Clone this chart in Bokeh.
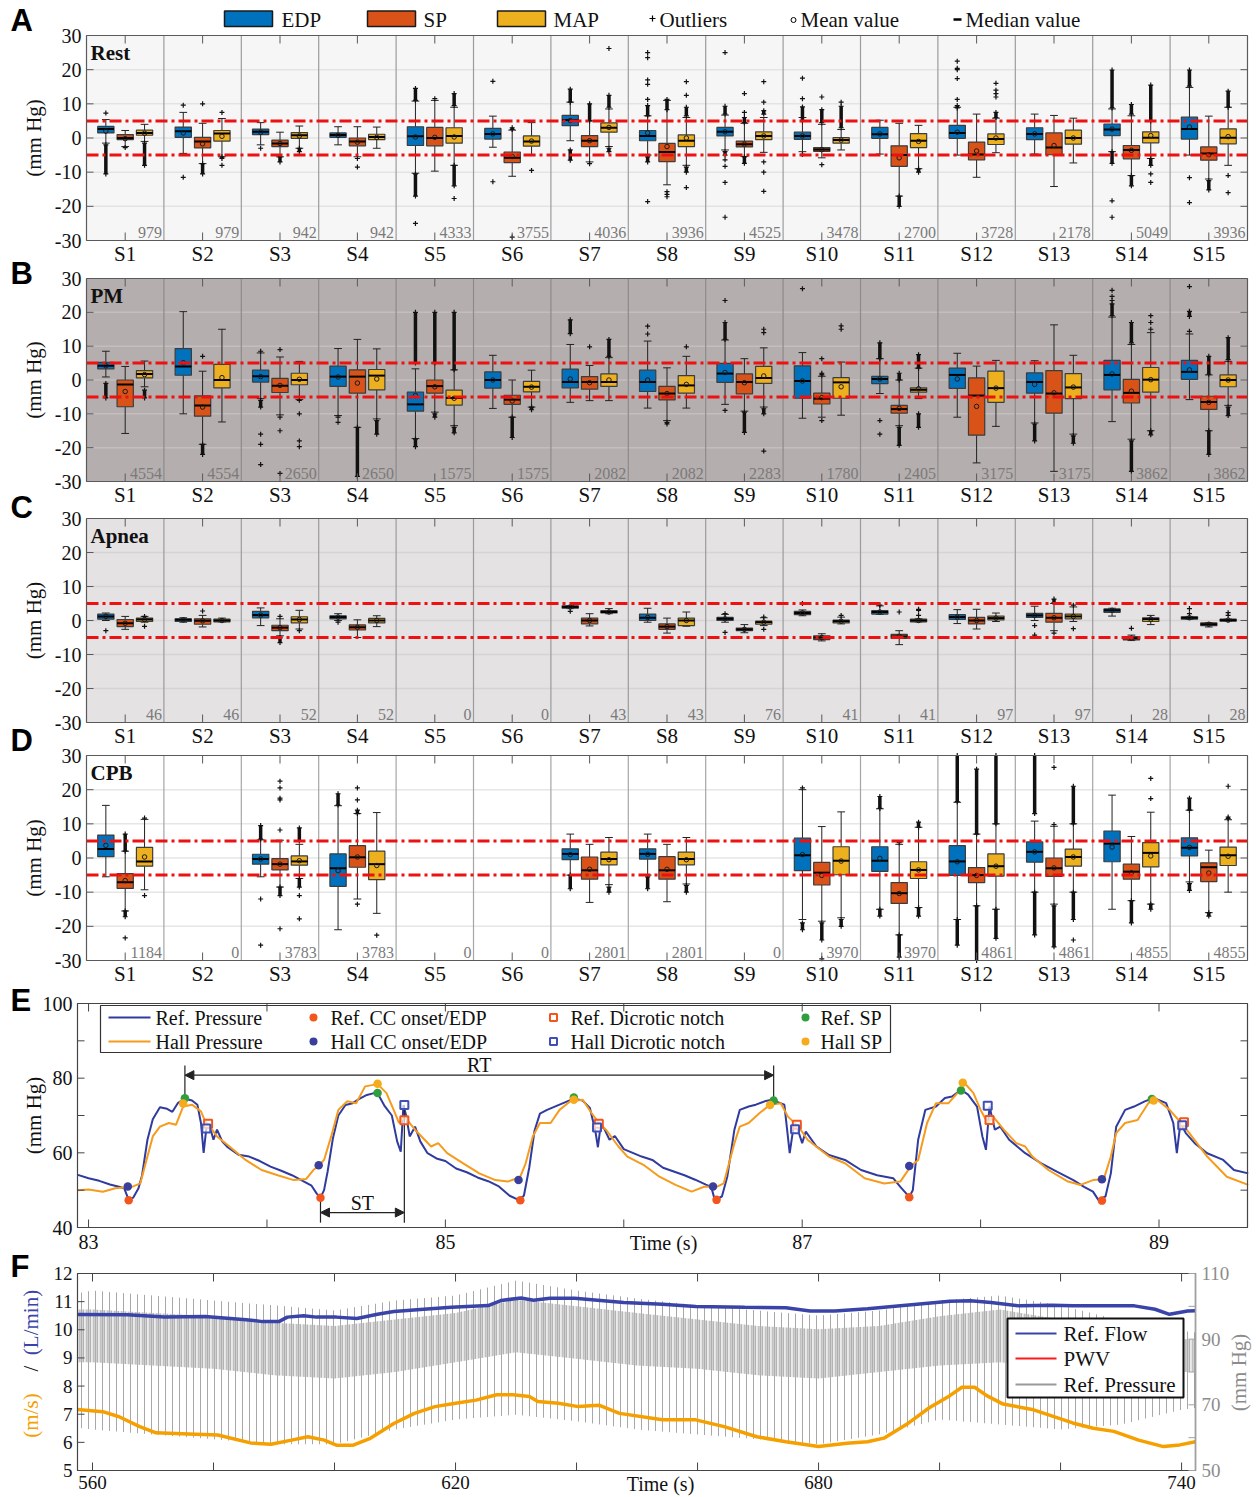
import math
from bokeh.plotting import figure
from bokeh.models import Range1d, ColumnDataSource, Arrow, NormalHead
from bokeh.embed import file_html
from bokeh.resources import INLINE
from bokeh.core.properties import value

# ------------------------------------------------------------------ data
subjects = ["S1", "S2", "S3", "S4", "S5", "S6", "S7", "S8", "S9", "S10", "S11", "S12", "S13", "S14", "S15"]
measures = ["EDP", "SP", "MAP"]
panel_names = ["Rest", "PM", "Apnea", "CPB"]
limits = [5, -5]
y_ticks = [-30, -20, -10, 0, 10, 20, 30]
# each box: [low whisker, q1, median, q3, high whisker, mean]
A_EDP = [[-1.5, 1.5, 2.6, 3.4, 5.4, 2.0], [-4.5, 0.2, 2.0, 3.2, 7.5, 1.5], [-2.0, 1.0, 1.8, 2.6, 4.5, 1.7],
         [-2.0, 0.2, 0.9, 1.5, 3.3, 0.8], [-10.3, -2.2, 0.5, 3.3, 10.8, 0.3], [-2.7, -0.3, 1.2, 2.8, 6.4, 1.2],
         [-0.8, 3.6, 5.3, 6.6, 10.5, 5.1], [-5.0, -0.8, 0.6, 2.2, 6.5, 1.5], [-3.5, 0.6, 1.8, 3.1, 6.7, 1.8],
         [-4.0, -0.4, 0.6, 1.7, 6.0, 0.6], [-4.7, -0.1, 1.1, 3.1, 5.2, 1.2], [-5.0, -0.1, 1.5, 3.7, 9.0, 1.7],
         [-4.7, -0.5, 1.2, 3.0, 7.0, 1.2], [-4.0, 0.7, 2.5, 4.1, 8.5, 2.6], [-5.0, -0.3, 2.6, 6.1, 14.8, 3.2]]
A_SP = [[-2.5, -0.5, 0.0, 1.0, 2.2, -0.2], [-7.5, -2.9, -1.0, 0.2, 4.3, -1.7], [-5.5, -2.5, -1.6, -0.6, 1.7, -1.6],
        [-5.5, -2.3, -1.0, 0.0, 3.3, -1.2], [-9.7, -2.3, 0.0, 3.1, 11.0, 0.2], [-11.2, -7.2, -5.8, -4.1, 2.3, -5.4],
        [-7.0, -2.5, -0.8, 0.7, 5.0, -0.8], [-13.7, -6.9, -4.1, -1.6, 11.0, -2.5], [-5.4, -2.6, -1.8, -0.9, 4.3, -1.8],
        [-5.8, -3.9, -3.4, -2.8, 4.0, -3.4], [-17.0, -8.3, -5.0, -2.3, 4.3, -5.8], [-11.5, -6.4, -4.8, -1.2, 7.0, -3.8],
        [-14.2, -4.9, -2.8, 1.5, 6.6, -2.2], [-11.0, -6.1, -3.5, -2.2, 6.5, -3.6], [-12.0, -6.5, -4.5, -2.6, 6.4, -4.9]]
A_MAP = [[-1.0, 0.8, 1.5, 2.3, 4.0, 1.4], [-5.5, -0.9, 1.3, 2.2, 5.7, 0.5], [-3.0, -0.1, 0.8, 1.6, 3.5, 0.6],
         [-3.0, -0.5, 0.3, 1.1, 3.2, 0.2], [-8.0, -1.5, 0.6, 3.0, 9.0, 0.3], [-5.0, -2.4, -1.0, 0.6, 4.5, -0.9],
         [-2.5, 1.7, 3.0, 4.4, 8.5, 3.1], [-8.0, -2.5, -0.8, 0.9, 6.0, 0.0], [-4.2, -0.5, 0.6, 1.8, 6.0, 0.6],
         [-3.5, -1.5, -0.6, 0.1, 2.5, -0.6], [-9.0, -2.8, -0.8, 1.3, 3.7, -1.0], [-4.3, -1.9, -0.3, 1.2, 5.8, 0.0],
         [-7.3, -1.8, 0.0, 2.3, 5.8, 0.0], [-6.0, -1.4, 0.1, 1.8, 5.0, 0.7], [-8.0, -1.7, 0.1, 2.7, 9.0, 0.4]]
# outliers: single values, or [from, to] for a dense run of outliers
A_EDP_out = [[7.3, [-2, -10.5]], [9.6, -11.5], [-3], [], [[11, 14.5], [-10.5, -17], -25], [16.6, -12.8],
             [[10.5, 14.3], [-3.5, -6.5]], [[6.5, 9.5], 11.3, 15.7, 17, 23.5, 25, [-5.5, -7], -18.6],
             [[7, 9.3], 25, [-4, -5], -6.4, -8.3, -13, -23.2], [[5, 9.1], 11.5, 17.5, -4.8], [],
             [[8.8, 9.5], 11.3, 17.4, 20, 20.4, 22.5], [], [[8.8, 19.9], [-4, -7.4], -18.4, -23.2],
             [[15.2, 19.9], -11.6, -18.9]]
A_SP_out = [[-2.8], [10, [-7.5, -10.5]], [[-5.5, -7]], [-6, -8.5], [11.5], [[2.5, 3], -29], [[5, 10], -7.5],
            [[8.3, 11.3], -15.7, -16.5, -17.2], [[4.5, 6], 7.5, 13, [-5.5, -7.4]], [[4.5, 8.3], 12, -7.8],
            [[-17, -20]], [], [], [[7, 9.8], [-11, -14]], [[-12.5, -15.2]]]
A_MAP_out = [[[-1.5, -8]], [7.5, [-5.5, -6], -8], [[-3, -4]], [], [[9.5, 13], [-8, -14], -17.7], [-9.5],
             [[9, 12.5], 26.2, [-3, -4]], [[6.5, 9], 12.5, 16.5, [-8.5, -10], -14.5],
             [[7, 8], 10.5, 16.5, -7, -10, -15.6], [[3, 9.3], 10.5], [[-9, -10]], [[6, 7.5], 12, 13, 14, 16], [],
             [[5, 15.5], [-6, -8], -10.5, -13], [[9, 13.7], -11, -16]]
A_n = [979, 979, 942, 942, 4333, 3755, 4036, 3936, 4525, 3478, 2700, 3728, 2178, 5049, 3936]

B_EDP = [[0.9, 3.3, 4.2, 5.2, 8.5, 4.2], [-10.0, 1.4, 4.0, 9.3, 20.2, 5.1], [-5.5, -0.6, 1.1, 2.9, 8.0, 1.0],
         [-10.5, -1.9, 1.0, 4.1, 9.3, 0.9], [-17.3, -9.2, -7.2, -3.6, 3.3, -4.6], [-8.4, -2.4, 0.0, 2.4, 7.3, 0.0],
         [-6.6, -2.3, -0.6, 3.2, 10.5, 0.3], [-8.3, -3.4, -0.6, 2.9, 11.5, 0.0], [-7.2, -0.7, 1.9, 4.9, 11.8, 2.2],
         [-11.3, -5.4, -0.3, 4.2, 8.1, -0.3], [-4.0, -1.1, 0.3, 1.1, 6.3, 0.3], [-11.0, -2.5, 1.5, 3.5, 7.9, 0.3],
         [-12.7, -3.9, -0.6, 2.1, 5.7, -1.3], [-12.3, -2.9, 1.5, 5.8, 18.6, 1.8], [-5.8, 0.2, 2.4, 5.8, 13.6, 3.0]]
B_SP = [[-15.8, -7.9, -1.3, 0.0, 4.0, -3.4], [-19.0, -10.7, -7.5, -4.7, 2.6, -8.0], [-10.3, -3.7, -1.7, 0.5, 6.8, -1.6],
        [-14.0, -3.9, 1.0, 3.0, 12.0, -0.9], [-9.5, -3.9, -1.8, 0.0, 5.0, -2.0], [-11.0, -7.2, -5.8, -4.5, 0.0, -6.2],
        [-6.1, -2.7, -0.6, 1.0, 4.3, -0.8], [-12.0, -5.9, -4.0, -1.9, 3.6, -4.0], [-9.2, -4.1, -0.6, 1.8, 6.3, -0.8],
        [-11.0, -7.1, -5.5, -3.9, 1.1, -5.2], [-13.5, -9.8, -8.6, -7.5, 0.0, -8.4], [-24.5, -16.3, -4.6, 0.6, 4.1, -7.8],
        [-27.0, -9.8, -4.0, 2.8, 16.3, -3.8], [-17.5, -6.8, -3.8, 0.2, 10.5, -3.3], [-15.0, -8.7, -6.5, -4.8, 1.5, -6.6]]
B_MAP = [[-2.0, 0.6, 1.8, 2.8, 5.6, 1.6], [-12.4, -2.3, 0.0, 4.6, 15.0, 0.7], [-5.8, -1.4, 0.0, 2.0, 5.5, 0.2],
         [-11.5, -2.9, 1.3, 3.1, 9.2, 0.3], [-13.5, -7.4, -5.3, -3.0, 3.0, -5.4], [-8.0, -3.5, -2.0, -0.4, 2.9, -2.1],
         [-6.1, -1.9, -0.6, 1.8, 6.6, 0.0], [-8.3, -3.9, -1.6, 1.3, 7.0, -1.3], [-8.0, -1.0, 0.6, 4.0, 9.5, 1.2],
         [-10.4, -5.4, -0.7, 0.7, 5.3, -2.0], [-5.5, -3.6, -2.9, -2.3, 3.5, -2.6], [-13.7, -6.6, -2.4, 2.6, 5.8, -2.4],
         [-16.0, -5.5, -2.2, 1.9, 7.3, -2.1], [-15.0, -3.6, 0.1, 3.7, 14.0, 0.1], [-7.5, -2.0, 0.0, 1.5, 5.5, 0.0]]
B_EDP_out = [[[-1, -5.3]], [], [8.5, [-6, -8], -16, -19, -25], [-11, -12.5], [[5, 20], [-17.5, -19.7]], [],
             [[13.7, 17.8]], [13.6, 15.9], [[12, 17], 23.5, -9], [27], [[6.3, 11], -12, -16], [],
             [[-13, -18]], [[19, 22.5], 23.5, 24.7, 26.5], [14.4, [18.8, 20.3], 27.6]]
B_SP_out = [[], [7, [-19, -22]], [9, -11, -15, -27.6], [[-14, -28.5]], [[5, 20], [-10, -11]], [[-11, -17]], [9.8],
            [[-12.5, -13]], [[-9.5, -15.5]], [[1.5, 2], 6.3, -12], [[0, 2], [-14, -19.3]], [], [],
            [[11, 17], [-18, -27]], [[1.7, 7], [-15, -22]]]
B_MAP_out = [[[-3, -5.3]], [], [-6, -10, -18, -19.7], [[-12, -16]], [[3, 20], [-14, -15.6]], [[-8, -8.8]],
             [[7, 12]], [9.8], [14, 15, [-8.5, -10], -21], [15, 16], [[3.5, 7.5], [-10, -14]], [],
             [[-16.5, -18.7]], [15, 17, 19, [-15, -16.2]], [[6, 12.5], [-8, -10.5]]]
B_n = [4554, 4554, 2650, 2650, 1575, 1575, 2082, 2082, 2283, 1780, 2405, 3175, 3175, 3862, 3862]

C_EDP = [[0.0, 0.4, 1.2, 1.9, 2.2, 1.2], [-0.5, -0.3, 0.2, 0.5, 0.8, 0.2], [-1.5, 0.8, 1.6, 2.7, 3.7, 1.6],
         [0.0, 0.5, 1.0, 1.4, 2.0, 1.0], None, None, [3.5, 3.6, 4.0, 4.3, 4.4, 4.0],
         [-0.5, 0.0, 0.8, 1.9, 3.6, 0.9], [-0.5, 0.0, 0.5, 0.9, 1.8, 0.5], [1.4, 1.7, 2.2, 2.7, 3.1, 2.2],
         [1.8, 1.9, 2.5, 2.9, 4.3, 2.5], [-0.9, 0.3, 1.0, 1.7, 3.2, 1.0], [0.0, 0.9, 1.5, 2.1, 4.2, 1.5],
         [1.3, 2.4, 3.0, 3.4, 3.6, 3.0], [0.3, 0.4, 0.8, 1.1, 1.2, 0.8]]
C_SP = [[-2.6, -1.8, -0.8, 0.3, 1.2, -0.8], [-1.9, -1.1, -0.1, 0.5, 1.5, -0.1], [-4.5, -3.0, -2.1, -1.4, 0.5, -2.1],
        [-5.0, -2.8, -2.0, -1.3, 0.2, -2.0], None, None, [-1.6, -1.0, 0.0, 0.7, 2.0, 0.0],
        [-3.7, -2.6, -1.8, -1.0, 0.7, -1.8], [-3.6, -3.0, -2.6, -2.2, -1.2, -2.6], [-6.0, -5.6, -5.0, -4.5, -3.9, -5.0],
        [-7.1, -5.3, -4.7, -4.1, -3.0, -4.7], [-2.5, -1.0, 0.0, 0.9, 3.3, 0.0], [-3.0, -0.5, 0.8, 2.1, 5.0, 0.8],
        [-5.9, -5.7, -5.2, -4.7, -4.3, -5.2], [-1.9, -1.5, -1.1, -0.7, -0.6, -1.1]]
C_MAP = [[-0.5, -0.3, 0.3, 0.7, 1.2, 0.3], [-0.4, -0.4, 0.0, 0.4, 0.7, 0.0], [-2.5, -0.7, 0.3, 1.1, 3.0, 0.3],
         [-1.8, -0.7, 0.0, 0.6, 1.4, 0.0], None, None, [2.0, 2.2, 2.5, 2.9, 3.5, 2.5],
         [-1.7, -1.5, 0.0, 0.7, 2.5, 0.0], [-1.5, -1.1, -0.5, -0.2, 0.8, -0.5], [-1.0, -0.7, -0.2, 0.1, 1.0, -0.2],
         [-0.4, -0.4, 0.0, 0.4, 0.5, 0.0], [-0.3, 0.2, 0.7, 1.3, 2.2, 0.7], [-0.3, 0.5, 1.2, 1.9, 4.0, 1.2],
         [-1.2, -0.3, 0.4, 0.8, 1.5, 0.4], [-0.2, -0.2, 0.1, 0.4, 0.4, 0.1]]
C_EDP_out = [[-3], [], [], [-0.5], [], [], [2.7], [], [2, -3.5], [5], [4.5], [], [-1.5, -4.3], [], [2, 3.5]]
C_SP_out = [[], [2.8], [1.2, [-5, -6.5]], [], [], [], [], [], [], [], [2.5], [], [[5.3, 6.3], -3.7], [-2.3], []]
C_MAP_out = [[1.2, -1.7], [], [-3], [], [], [], [], [], [1, -2.6], [1.5], [1.5, 3, 3.3], [], [4.5, -2.4], [],
             [1.5, 2.3]]
C_n = [46, 46, 52, 52, 0, 0, 43, 43, 76, 41, 41, 97, 97, 28, 28]

D_EDP = [[-5.5, 0.4, 2.6, 6.7, 15.4, 3.7], None, [-5.5, -1.8, -0.3, 1.1, 5.3, -0.3],
         [-21.0, -8.3, -3.0, 1.2, 15.3, -3.7], None, None, [-5.0, -0.5, 1.2, 2.7, 7.0, 1.0],
         [-5.0, -0.3, 1.2, 2.7, 7.0, 1.1], None, [-18.0, -3.7, 0.8, 5.8, 20.0, 1.0],
         [-15.0, -3.9, -0.8, 3.3, 14.4, -0.1], [-18.0, -5.1, -1.0, 3.6, 16.3, -1.1],
         [-10.0, -1.2, 1.8, 4.7, 10.8, 1.8], [-15.0, -1.1, 4.2, 7.9, 18.4, 3.2], [-7.0, 0.6, 3.0, 5.9, 14.0, 3.1]]
D_SP = [[-15.5, -8.9, -7.1, -4.6, 2.0, -6.6], None, [-8.5, -3.5, -1.8, -0.2, 5.2, -1.8],
        [-12.0, -2.7, 0.2, 3.6, 13.0, 0.3], None, None, [-13.0, -6.2, -3.6, 0.3, 4.0, -3.3],
        [-12.8, -6.2, -3.6, 0.4, 4.0, -3.3], None, [-18.5, -7.9, -4.3, -1.3, 9.2, -5.1],
        [-22.5, -13.3, -10.3, -7.2, 4.0, -10.4], [-14.0, -7.2, -5.0, -2.8, 7.0, -5.1],
        [-13.5, -5.4, -3.0, 0.0, 9.3, -2.9], [-12.5, -6.2, -4.0, -1.8, 6.3, -4.3], [-16.0, -6.9, -2.7, -1.4, 2.3, -4.4]]
D_MAP = [[-9.3, -2.4, -1.0, 3.1, 11.3, 0.3], None, [-6.0, -2.1, -1.0, 0.6, 4.0, -0.8],
         [-16.2, -6.3, -1.8, 2.0, 13.3, -2.2], None, None, [-7.8, -2.0, -0.3, 1.7, 6.0, -0.5],
         [-7.6, -2.0, -0.3, 1.7, 6.0, -0.5], None, [-17.5, -4.9, -0.8, 3.3, 13.5, -0.9],
         [-14.5, -6.0, -3.5, -1.1, 9.0, -3.5], [-15.0, -5.3, -2.4, 1.2, 10.0, -2.4],
         [-10.0, -2.4, 0.3, 2.6, 10.0, 0.3], [-13.5, -2.6, 1.5, 4.5, 13.4, 0.6], [-10.0, -2.2, 0.8, 3.2, 11.2, 0.5]]
D_EDP_out = [[], [], [[5.5, 9.5], -12, -25.5], [[15.5, 18.8]], [], [], [[-5, -9]], [[-5.5, -9]], [],
             [20.5, [-19, -21]], [[14.5, 18], [-15, -17]], [[16.5, 30], [-18, -25.5]], [[13, 30], [-10, -22.5]],
             [], [[14, 17.5], [-7.5, -9.5]]]
D_SP_out = [[[2, 7], [-15.5, -17.2], -23.4], [], [8.2, 17, 17.5, 20.5, 22.5, [-8.5, -11], -20.7],
            [[13, 14], 17, 20.5, -13.5], [], [], [], [], [], [[-19, -24], -29.5], [4.5, [-22.5, -29]],
            [[7, 26], [-14, -30]], [9.8, 26.5, [-14, -26]], [[-12.5, -19]], [[-16, -17]]]
D_MAP_out = [[11.7, -11], [], [[5, 8.8], [-6, -8.5], -11, -17.8], [-22.6], [], [], [[-8.5, -10]], [[-8, -10]], [],
             [[-18, -20]], [[9, 10.5], [-14.5, -17]], [[10, 30], [-15, -23.5]], [[10, 21], [-10, -18], -24],
             [17.4, 23.3, [-13.5, -15]], [[11.5, 12], 21]]
D_n = [1184, 0, 3783, 3783, 0, 0, 2801, 2801, 0, 3970, 3970, 4861, 4861, 4855, 4855]

# panel E : waveforms (time s, pressure mm Hg)
ref_t = [82.94, 83.0, 83.06, 83.12, 83.17, 83.2, 83.225, 83.25, 83.28, 83.3, 83.33, 83.36, 83.4, 83.44, 83.47, 83.5,
         83.54, 83.58, 83.61, 83.63, 83.645, 83.66, 83.68, 83.7, 83.72, 83.75, 83.78, 83.84, 83.9, 83.96, 84.02, 84.08,
         84.14, 84.2, 84.25, 84.28, 84.3, 84.32, 84.34, 84.37, 84.4, 84.44, 84.48, 84.52, 84.56, 84.6, 84.63, 84.66,
         84.7, 84.73, 84.75, 84.765, 84.78, 84.8, 84.83, 84.86, 84.9, 84.95, 85.0, 85.06, 85.12, 85.18, 85.24, 85.3,
         85.36, 85.41, 85.44, 85.47, 85.5, 85.53, 85.57, 85.62, 85.67, 85.72, 85.77, 85.81, 85.84, 85.855, 85.87,
         85.89, 85.92, 85.95, 86.0, 86.05, 86.1, 86.16, 86.22, 86.28, 86.34, 86.4, 86.46, 86.49, 86.51, 86.55, 86.58,
         86.62, 86.65, 86.7, 86.74, 86.79, 86.83, 86.9, 86.93, 86.95, 86.97, 87.0, 87.02, 87.08, 87.15, 87.24, 87.33,
         87.42, 87.51, 87.55, 87.6, 87.62, 87.65, 87.69, 87.75, 87.8, 87.84, 87.89, 87.93, 87.98, 88.01, 88.03, 88.05,
         88.08, 88.11, 88.16, 88.25, 88.34, 88.43, 88.52, 88.58, 88.63, 88.66, 88.7, 88.73, 88.76, 88.81, 88.86, 88.92,
         88.97, 89.04, 89.08, 89.1, 89.12, 89.15, 89.2, 89.27, 89.36, 89.42, 89.5]
ref_p = [54.1, 53.2, 52.5, 51.5, 50.9, 50.5, 47.4, 48.0, 50.5, 54.0, 63.5, 69.0, 72.2, 71.8, 71.0, 73.3,
         74.5, 74.0, 72.9, 68.0, 60.0, 66.5, 67.0, 63.5, 66.2, 63.0, 61.5, 59.5, 59.0, 57.8, 56.3, 55.2,
         54.0, 52.5, 51.2, 49.0, 48.0, 50.0, 55.0, 64.0, 70.0, 72.8, 73.3, 74.5, 75.5, 76.0, 75.1, 72.5,
         70.0, 63.0, 60.3, 72.8, 70.0, 64.4, 67.0, 63.0, 59.9, 58.5, 57.8, 55.8, 54.8, 53.4, 52.4, 51.0,
         48.5, 47.4, 48.5, 56.0, 66.0, 70.5, 71.5, 72.5, 73.5, 74.5, 74.0, 72.0, 66.0, 61.5, 67.2,
         66.5, 63.5, 64.5, 61.0, 60.0, 59.0, 58.1, 56.0, 55.0, 54.0, 52.8, 51.5, 50.9, 47.4, 48.3, 53.6,
         66.2, 71.5, 72.4, 72.9, 73.8, 74.2, 72.9, 59.9, 66.5, 67.0, 62.6, 65.7, 61.7, 59.4, 58.1, 55.4,
         54.0, 53.2, 50.9, 48.2, 50.0, 63.5, 71.5, 72.4, 74.7, 75.1, 76.9, 75.6, 72.4, 64.4, 60.8, 72.4,
         66.2, 67.0, 63.5, 59.9, 57.2, 54.9, 52.7, 50.9, 49.6, 47.4, 48.3, 54.5, 67.0, 71.5, 72.4, 73.8,
         74.7, 73.3, 68.0, 59.9, 68.0, 65.3, 62.6, 59.9, 58.1, 55.4, 54.5]
hall_t = [82.94, 83.0, 83.08, 83.15, 83.2, 83.25, 83.29, 83.32, 83.36, 83.4, 83.45, 83.49, 83.53, 83.58, 83.63, 83.65,
          83.68, 83.72, 83.79, 83.88, 83.97, 84.06, 84.15, 84.22, 84.26, 84.29, 84.32, 84.36, 84.4, 84.45, 84.5, 84.55,
          84.62, 84.67, 84.71, 84.74, 84.77, 84.83, 84.92, 84.96, 85.01, 85.1, 85.19, 85.28, 85.35, 85.39, 85.42,
          85.45, 85.49, 85.53, 85.59, 85.64, 85.7, 85.77, 85.82, 85.86, 85.9, 85.97, 86.02, 86.11, 86.2, 86.29, 86.38,
          86.45, 86.52, 86.56, 86.62, 86.65, 86.7, 86.76, 86.82, 86.88, 86.92, 86.98, 87.03, 87.15, 87.24, 87.35,
          87.46, 87.55, 87.61, 87.65, 87.7, 87.75, 87.82, 87.87, 87.91, 87.96, 88.0, 88.04, 88.07, 88.13, 88.2, 88.25,
          88.29, 88.38, 88.49, 88.56, 88.63, 88.69, 88.73, 88.76, 88.81, 88.88, 88.94, 88.99, 89.06, 89.12, 89.17,
          89.27, 89.38, 89.5]
hall_p = [50.0, 50.2, 49.6, 50.5, 50.7, 51.0, 51.8, 57.2, 64.4, 67.0, 68.0, 67.5, 72.4, 72.9, 71.1, 68.8,
          67.0, 64.4, 61.7, 58.1, 55.4, 54.0, 52.7, 53.0, 55.4, 56.6, 58.1, 64.4, 71.5, 73.8, 73.3, 77.8,
          78.4, 76.0, 71.5, 68.0, 69.7, 66.2, 61.7, 62.6, 59.9, 57.2, 54.5, 52.7, 52.3, 53.0, 53.6,
          57.2, 64.4, 68.0, 68.0, 71.5, 73.8, 74.2, 70.6, 68.0, 66.2, 61.7, 59.0, 56.8, 53.6, 51.4, 49.6,
          50.9, 50.9, 51.8, 62.6, 67.0, 68.0, 70.6, 72.9, 73.3, 69.7, 67.0, 63.5, 59.0, 57.2, 53.2,
          51.8, 52.3, 56.5, 58.1, 68.0, 73.3, 73.3, 76.0, 78.7, 76.0, 71.5, 68.0, 69.7, 66.2, 62.6, 61.7,
          59.0, 55.4, 52.3, 51.4, 52.7, 52.9, 59.0, 65.3, 68.0, 68.8, 73.3, 74.2, 71.5, 68.2, 65.3,
          59.0, 53.6, 51.4]
ref_on_t = [83.225, 84.3, 85.42, 86.52, 87.6, 88.68]
ref_on_p = [47.3, 48.0, 47.3, 47.4, 48.1, 47.2]
hall_on_t = [83.22, 84.29, 85.41, 86.5, 87.6, 88.68]
hall_on_p = [51.0, 56.7, 52.7, 51.0, 56.5, 52.9]
ref_dn_t = [83.67, 84.77, 85.86, 86.97, 88.05, 89.14]
ref_dn_p = [67.8, 68.7, 67.8, 67.5, 68.8, 68.2]
hall_dn_t = [83.66, 84.77, 85.85, 86.96, 88.04, 89.13]
hall_dn_p = [66.5, 72.8, 66.8, 66.3, 72.6, 67.4]
ref_sp_t = [83.54, 84.62, 85.72, 86.84, 87.89, 88.96]
ref_sp_p = [74.6, 76.0, 74.8, 74.0, 76.7, 74.4]
hall_sp_t = [83.53, 84.62, 85.72, 86.82, 87.9, 88.97]
hall_sp_p = [73.2, 78.5, 74.2, 72.8, 78.8, 74.0]
E_leg_1 = ["Ref. Pressure", "Ref. CC onset/EDP", "Ref. Dicrotic notch", "Ref. SP"]
E_leg_2 = ["Hall Pressure", "Hall CC onset/EDP", "Hall Dicrotic notch", "Hall SP"]
E_xticks = [83, 84, 85, 86, 87, 88, 89]
E_xlabels = [83, 85, 87, 89]
E_yticks = [40, 50, 60, 70, 80, 90, 100]
E_ylabels = [40, 60, 80, 100]

# panel F : trends (time s)
flow_t = [557.5, 565.8, 571.9, 578.6, 585.4, 588.1, 590.8, 592.2, 594.9, 597.0, 600.3, 603.7, 607.1, 609.8, 615.3,
          619.3, 625.4, 627.5, 630.8, 632.9, 635.6, 639.7, 643.0, 647.8, 654.2, 659.7, 667.8, 674.6, 678.6, 682.7,
          688.1, 694.9, 701.7, 705.1, 708.5, 713.2, 718.6, 722.0, 732.2, 735.6, 738.0, 741.0, 742.3]
flow_v = [10.54, 10.53, 10.45, 10.47, 10.36, 10.29, 10.29, 10.45, 10.5, 10.45, 10.45, 10.4, 10.55, 10.65, 10.74,
          10.8, 10.86, 11.04, 11.13, 11.05, 11.12, 11.12, 11.06, 10.97, 10.91, 10.83, 10.8, 10.78, 10.67, 10.67,
          10.75, 10.88, 11.01, 11.03, 10.97, 10.85, 10.87, 10.85, 10.85, 10.73, 10.55, 10.67, 10.68]
pwv_t = [557.5, 561.7, 564.4, 567.8, 570.5, 575.9, 580.7, 586.1, 589.5, 592.9, 595.6, 598.3, 600.3, 603.1, 605.8,
         609.8, 613.2, 616.6, 620.0, 623.4, 626.8, 629.5, 632.2, 633.6, 637.0, 640.3, 643.7, 647.1, 654.2, 659.7,
         664.4, 669.8, 674.6, 680.0, 684.7, 688.1, 690.8, 694.9, 698.3, 701.7, 703.7, 705.8, 707.8, 710.5, 715.3,
         722.0, 725.4, 728.8, 732.9, 737.0, 739.7, 742.3]
pwv_v = [7.17, 7.09, 6.91, 6.56, 6.34, 6.3, 6.26, 5.98, 5.93, 6.08, 6.2, 6.08, 5.9, 5.9, 6.13,
         6.67, 7.03, 7.27, 7.39, 7.5, 7.69, 7.69, 7.63, 7.45, 7.39, 7.27, 7.32, 7.03, 6.8, 6.8,
         6.56, 6.2, 6.02, 5.85, 5.97, 6.02, 6.15, 6.69, 7.23, 7.66, 7.96, 7.96, 7.66, 7.36, 7.17,
         6.69, 6.5, 6.39, 6.08, 5.85, 5.91, 6.02]
# reference pressure trace: envelope of beat peaks / troughs and its dense mid band (mm Hg)
prs_t = [557.5, 560, 570, 580, 590, 600, 610, 620, 630, 640, 650, 660, 670, 680, 690, 700, 710, 720, 730, 740, 742.3]
prs_top = [104, 104.8, 103.3, 101.8, 100.3, 98.7, 101.8, 103.3, 107.9, 104.8, 102.4, 100.3, 98.7, 97.2, 98.7, 101.8,
           103.3, 100.3, 95.7, 92.6, 92]
prs_bot = [63, 62.5, 61, 59.5, 58, 58, 62.5, 65.5, 67, 65, 62.5, 61, 59.5, 58, 61, 65.5, 64, 62.5, 64, 68.5, 69]
prs_mid_hi = [99, 99, 98, 97, 95, 94, 96, 98, 102, 100, 98, 96, 94, 93, 94, 97, 99, 96, 93, 90, 90]
prs_mid_lo = [83, 83, 82, 81, 79, 78, 80, 83, 86, 84, 82, 81, 79, 78, 80, 82, 83, 81, 80, 80, 80]
F_leg = ["Ref. Flow", "PWV", "Ref. Pressure"]
F_xticks = [560, 580, 600, 620, 640, 660, 680, 700, 720, 740]
F_xlabels = [560, 620, 680, 740]
F_yticks = [5, 6, 7, 8, 9, 10, 11, 12]
F_pticks = [50, 60, 70, 80, 90, 100, 110]
F_plabels = [50, 70, 90, 110]

# ------------------------------------------------------------------ style
SERIF = "Liberation Serif"
SANS = "Liberation Sans"
AXC = "#5a5a5a"
INK = "#111111"
COLS = ["#0072BD", "#D95319", "#EDB120"]
OFFS = [-0.25, 0.0, 0.25]
BW = 0.21
REFC = "#2f3b9e"
HALLC = "#f59b1e"
FLOWC = "#3a44a8"
PWVC = "#f5a000"
GREYT = "#8c8c8c"

CW, CH = 1259, 1496          # one canvas covering the page (page pixel == canvas pixel)
p = figure(width=CW, height=CH, x_range=Range1d(0, CW), y_range=Range1d(CH, 0),
           output_backend="svg", toolbar_location=None, min_border=0, x_axis_type=None, y_axis_type=None)
p.outline_line_color = None
p.grid.visible = False
p.background_fill_color = "white"

XR, YR = {}, {}


class Panel:
    """Maps a data rectangle onto a pixel rectangle of the page via extra ranges."""

    def __init__(self, key, x0, x1, y0, y1, L, R, T, B, xkey=None):
        self.x0, self.x1, self.y0, self.y1 = x0, x1, y0, y1
        self.L, self.R, self.T, self.B = L, R, T, B
        self.kx = (x1 - x0) / (R - L)
        self.ky = (y1 - y0) / (B - T)
        self.xr = xkey or key + "_x"
        if self.xr not in XR:
            XR[self.xr] = Range1d(x0 - L * self.kx, x1 + (CW - R) * self.kx)
        self.yr = key + "_y"
        YR[self.yr] = Range1d(y0 - (CH - B) * self.ky, y1 + T * self.ky)
        self.kw = dict(x_range_name=self.xr, y_range_name=self.yr)

    def dx(self, px):
        return px * self.kx

    def dy(self, px):
        return px * self.ky


PA = Panel("A", 0.5, 15.5, -30, 30, 86, 1247, 35, 240, xkey="S")
PB = Panel("B", 0.5, 15.5, -30, 30, 86, 1247, 278, 481, xkey="S")
PC = Panel("C", 0.5, 15.5, -30, 30, 86, 1247, 518, 722, xkey="S")
PD = Panel("D", 0.5, 15.5, -30, 30, 86, 1247, 755, 960, xkey="S")
PE = Panel("E", 82.938, 89.496, 40, 100, 77, 1247, 1003, 1227)
PF = Panel("F", 557.52, 742.3, 5, 12, 77, 1195, 1273, 1470)
PFp = Panel("Fp", 557.52, 742.3, 50, 110, 77, 1195, 1273, 1470, xkey="F_x")
p.extra_x_ranges = XR
p.extra_y_ranges = YR


def txt(x, y, text, P=None, size="20px", align="left", baseline="middle", color=INK, font=SERIF,
        style="normal", angle=0.0):
    kw = P.kw if P else {}
    p.text(x=x, y=y, text=text, text_align=align, text_baseline=baseline, text_font=value(font),
           text_font_size=size, text_color=color, text_font_style=style, angle=angle, **kw)


def frame_box(P, bg=None, color=AXC):
    p.quad(left=[P.x0], right=[P.x1], bottom=[P.y0], top=[P.y1], fill_color=bg, line_color=color,
           line_width=1.2, **P.kw)


def xticks(P, vals, length=8, color=AXC):
    n = len(vals)
    p.segment(x0=vals, y0=[P.y0] * n, x1=vals, y1=[P.y0 + P.dy(length)] * n, line_color=color, **P.kw)
    p.segment(x0=vals, y0=[P.y1] * n, x1=vals, y1=[P.y1 - P.dy(length)] * n, line_color=color, **P.kw)


def yticks(P, vals, length=7, left=True, right=True, color=AXC):
    n = len(vals)
    if left:
        p.segment(x0=[P.x0] * n, y0=vals, x1=[P.x0 + P.dx(length)] * n, y1=vals, line_color=color, **P.kw)
    if right:
        p.segment(x0=[P.x1] * n, y0=vals, x1=[P.x1 - P.dx(length)] * n, y1=vals, line_color=color, **P.kw)


def ylabels(P, vals, size="20px", side="left", color=INK, gap=5):
    n = len(vals)
    if side == "left":
        xx, al = P.x0 - P.dx(gap), "right"
    else:
        xx, al = P.x1 + P.dx(gap), "left"
    txt([xx] * n, vals, [str(v) for v in vals], P, size=size, align=al, color=color)


# ---------------------------------------------------------------- box-plot panels
def box_panel(P, title, stats, outs, counts, bg, gridc, sepc):
    frame_box(P, bg, None)
    gl = [-20, -10, 0, 10, 20]
    p.segment(x0=[P.x0] * 5, y0=gl, x1=[P.x1] * 5, y1=gl, line_color=gridc, line_width=1.5, **P.kw)
    sep = [i + 0.5 for i in range(1, 15)]
    p.segment(x0=sep, y0=[P.y0] * 14, x1=sep, y1=[P.y1] * 14, line_color=sepc, line_width=1.2, **P.kw)
    for m in range(3):
        xs, lo, q1, md, q3, hi, mn = [], [], [], [], [], [], []
        for i, s in enumerate(stats[m]):
            if s is None:
                continue
            xs.append(i + 1 + OFFS[m])
            lo.append(s[0]); q1.append(s[1]); md.append(s[2]); q3.append(s[3]); hi.append(s[4]); mn.append(s[5])
        src = ColumnDataSource(dict(x=xs, lo=lo, q1=q1, md=md, q3=q3, hi=hi, mn=mn,
                                    xl=[x - BW / 2 for x in xs], xr=[x + BW / 2 for x in xs],
                                    cl=[x - 0.05 for x in xs], cr=[x + 0.05 for x in xs]))
        for a, b in (("q3", "hi"), ("q1", "lo")):
            p.segment(x0="x", y0=a, x1="x", y1=b, source=src, line_color="#222222", line_width=1, **P.kw)
        for c in ("hi", "lo"):
            p.segment(x0="cl", y0=c, x1="cr", y1=c, source=src, line_color="#222222", line_width=1, **P.kw)
        sx, sy, rx, r0, r1 = [], [], [], [], []
        for i, lst in enumerate(outs[m]):
            x = i + 1 + OFFS[m]
            for o in lst:
                if isinstance(o, list):
                    rx.append(x); r0.append(o[0]); r1.append(o[1])
                else:
                    sx.append(x); sy.append(o)
        if rx:
            p.segment(x0=rx, y0=r0, x1=rx, y1=r1, line_color=INK, line_width=3.5, **P.kw)
            p.scatter(x=rx + rx, y=r0 + r1, marker="cross", size=5, line_color=INK, line_width=1.2, **P.kw)
        if sx:
            p.scatter(x=sx, y=sy, marker="cross", size=5, line_color=INK, line_width=1.2, **P.kw)
        p.vbar(x="x", width=BW, top="q3", bottom="q1", source=src, fill_color=COLS[m],
               line_color="#3c3c3c", line_width=1.2, **P.kw)
        p.segment(x0="xl", y0="md", x1="xr", y1="md", source=src, line_color="black", line_width=2, **P.kw)
        p.scatter(x="x", y="mn", source=src, marker="circle", size=4.5, fill_color=None,
                  line_color="#1a1a1a", line_width=1, **P.kw)
    p.segment(x0=[P.x0] * 2, y0=limits, x1=[P.x1] * 2, y1=limits, line_color="#ee1111", line_width=3,
              line_dash="12 4 3 4", **P.kw)
    txt([i + 1.5 - P.dx(2) for i in range(15)], [P.y0 + P.dy(8)] * 15, [str(c) for c in counts], P,
        size="16px", align="right", color="#7a7a7a")
    txt([P.x0 + P.dx(4)], [P.y1 - P.dy(17)], [title], P, size="21px", style="bold")
    frame_box(P, None, AXC)
    xs_ = list(range(1, 16))
    xticks(P, xs_)
    yticks(P, y_ticks[1:-1])
    txt(xs_, [P.y0 - P.dy(13)] * 15, subjects, P, size="21px", align="center")
    ylabels(P, y_ticks)
    txt([33], [(P.T + P.B) / 2], ["(mm Hg)"], size="21px", align="center", angle=math.pi / 2)


box_panel(PA, panel_names[0], [A_EDP, A_SP, A_MAP], [A_EDP_out, A_SP_out, A_MAP_out], A_n,
          "#f6f6f6", "#e3e3e3", "#9c9c9c")
box_panel(PB, panel_names[1], [B_EDP, B_SP, B_MAP], [B_EDP_out, B_SP_out, B_MAP_out], B_n,
          "#b5aeae", "#c3bdbd", "#8e8a8a")
box_panel(PC, panel_names[2], [C_EDP, C_SP, C_MAP], [C_EDP_out, C_SP_out, C_MAP_out], C_n,
          "#e4e2e3", "#d5d3d4", "#9c9c9c")
box_panel(PD, panel_names[3], [D_EDP, D_SP, D_MAP], [D_EDP_out, D_SP_out, D_MAP_out], D_n,
          "#ffffff", "#e6e6e6", "#a6a6a6")

# legend of A (page pixel coordinates)
p.quad(left=[224, 367, 497], right=[272, 415, 545], top=[10.5] * 3, bottom=[26] * 3, fill_color=COLS,
       line_color="#1a1a1a", line_width=1.5)
txt([281, 423, 553, 659, 800, 965], [19] * 6, measures + ["Outliers", "Mean value", "Median value"], size="21px")
p.scatter(x=[652], y=[18], marker="cross", size=6, line_color="black", line_width=1.2)
p.scatter(x=[793], y=[19.5], marker="circle", size=5, fill_color=None, line_color="black")
p.segment(x0=[953], y0=[19], x1=[961], y1=[19], line_color="black", line_width=2.5)
# panel letters
txt([10] * 6, [20, 273, 507, 740, 1000, 1266], ["A", "B", "C", "D", "E", "F"], size="31px", font=SANS,
    style="bold", color="black")

# ---------------------------------------------------------------- panel E
frame_box(PE, "white", None)
p.line(ref_t, ref_p, line_color=REFC, line_width=2, **PE.kw)
p.line(hall_t, hall_p, line_color=HALLC, line_width=2, **PE.kw)
p.segment(x0=[ref_sp_t[0], ref_sp_t[3]], y0=[ref_sp_p[0], ref_sp_p[3]], x1=[ref_sp_t[0], ref_sp_t[3]],
          y1=[83.4, 83.4], line_color="#222222", line_width=1.2, **PE.kw)
p.segment(x0=[ref_on_t[1], ref_dn_t[1]], y0=[ref_on_p[1], hall_dn_p[1]], x1=[ref_on_t[1], ref_dn_t[1]],
          y1=[41.3, 41.3], line_color="#222222", line_width=1.2, **PE.kw)
for (xa, xb, yy) in ((ref_sp_t[0], ref_sp_t[3], 80.8), (ref_on_t[1], ref_dn_t[1], 44.0)):
    p.add_layout(Arrow(start=NormalHead(size=9, fill_color="#222222", line_color="#222222"),
                       end=NormalHead(size=9, fill_color="#222222", line_color="#222222"),
                       x_start=xa, y_start=yy, x_end=xb, y_end=yy, line_color="#222222", line_width=1.2,
                       x_range_name=PE.xr, y_range_name=PE.yr))
txt([(ref_sp_t[0] + ref_sp_t[3]) / 2, (ref_on_t[1] + ref_dn_t[1]) / 2], [83.6, 46.6], ["RT", "ST"], PE,
    size="20px", align="center")
p.scatter(ref_on_t, ref_on_p, marker="circle", size=8.5, fill_color="#f2561d", line_color=None, **PE.kw)
p.scatter(hall_on_t, hall_on_p, marker="circle", size=8.5, fill_color="#3a3f9e", line_color=None, **PE.kw)
p.scatter(ref_dn_t, ref_dn_p, marker="square", size=8, fill_color="white", fill_alpha=0.7,
          line_color="#f2561d", line_width=2, **PE.kw)
p.scatter(hall_dn_t, hall_dn_p, marker="square", size=8, fill_color="white", fill_alpha=0.7,
          line_color="#3f4fb5", line_width=2, **PE.kw)
p.scatter(ref_sp_t, ref_sp_p, marker="circle", size=8.5, fill_color="#2f9e3f", line_color=None, **PE.kw)
p.scatter(hall_sp_t, hall_sp_p, marker="circle", size=8.5, fill_color="#f6ab1c", line_color=None, **PE.kw)
# legend of E (page pixel coordinates)
p.quad(left=[100], right=[890], top=[1005], bottom=[1052], fill_color="white", line_color="#333333",
       line_width=1.2)
p.segment(x0=[108, 108], y0=[1017, 1041], x1=[150, 150], y1=[1017, 1041], line_color=[REFC, HALLC],
          line_width=2)
p.scatter([313, 313], [1017, 1041], marker="circle", size=8, fill_color=["#f2561d", "#3a3f9e"], line_color=None)
p.scatter([553, 553], [1017, 1041], marker="square", size=7, fill_color="white",
          line_color=["#f2561d", "#3f4fb5"], line_width=2)
p.scatter([805, 805], [1017, 1041], marker="circle", size=8, fill_color=["#2f9e3f", "#f6ab1c"], line_color=None)
txt([155, 330, 570, 820] * 2, [1017] * 4 + [1041] * 4, E_leg_1 + E_leg_2, size="20px")
frame_box(PE, None, "#444444")
xticks(PE, E_xticks, color="#444444")
yticks(PE, E_yticks, color="#444444")
txt(E_xlabels, [PE.y0 - PE.dy(14)] * 4, [str(v) for v in E_xlabels], PE, size="20px", align="center")
ylabels(PE, E_ylabels)
txt([663], [1242], ["Time (s)"], size="20px", align="center")
txt([33], [1115], ["(mm Hg)"], size="21px", align="center", angle=math.pi / 2)

# ---------------------------------------------------------------- panel F
frame_box(PF, "white", None)
p.varea(x=prs_t, y1=prs_bot, y2=prs_top, fill_alpha=0, hatch_pattern="vertical_line",
        hatch_color="#a8a8a8", hatch_scale=7, hatch_weight=1, **PFp.kw)
p.varea(x=prs_t, y1=prs_mid_lo, y2=prs_mid_hi, fill_color="#bdbdbd", fill_alpha=0.3,
        hatch_pattern="vertical_line", hatch_color="#9a9a9a", hatch_scale=3.5, hatch_weight=1, **PFp.kw)
p.line(flow_t, flow_v, line_color=FLOWC, line_width=3.5, **PF.kw)
p.line(pwv_t, pwv_v, line_color=PWVC, line_width=3.5, **PF.kw)
# legend of F (page pixel coordinates)
p.quad(left=[1007], right=[1183], top=[1318], bottom=[1397], fill_color="white", line_color=INK, line_width=2)
p.segment(x0=[1015] * 3, y0=[1333, 1358, 1384], x1=[1056] * 3, y1=[1333, 1358, 1384],
          line_color=[FLOWC, "#ff1a1a", "#9a9a9a"], line_width=2)
txt([1063] * 3, [1333, 1358, 1384], F_leg, size="21px")
frame_box(PF, None, "#444444")
p.segment(x0=[PFp.x1], y0=[PFp.y0], x1=[PFp.x1], y1=[PFp.y1], line_color="#a0a0a0", line_width=1.5, **PFp.kw)
xticks(PF, F_xticks, color="#444444")
yticks(PF, F_yticks, right=False, color="#444444")
yticks(PFp, F_pticks, left=False, color="#a0a0a0")
txt(F_xlabels, [PF.y0 - PF.dy(12)] * 4, [str(v) for v in F_xlabels], PF, size="19px", align="center")
ylabels(PF, F_yticks, size="19px")
ylabels(PFp, F_plabels, size="19px", side="right", color=GREYT, gap=6)
txt([660], [1483], ["Time (s)"], size="20px", align="center")
p.text(x=[30, 30, 30], y=[1415, 1368, 1322], text=["(m/s)", "/", "(L/min)"], text_align="center",
       text_baseline="middle", text_font=value(SERIF), text_font_size="21px",
       text_color=[PWVC, INK, FLOWC], angle=math.pi / 2)
txt([1238], [1372], ["(mm Hg)"], size="21px", align="center", angle=math.pi / 2, color=GREYT)

open("out.html", "w").write(file_html(p, INLINE))
